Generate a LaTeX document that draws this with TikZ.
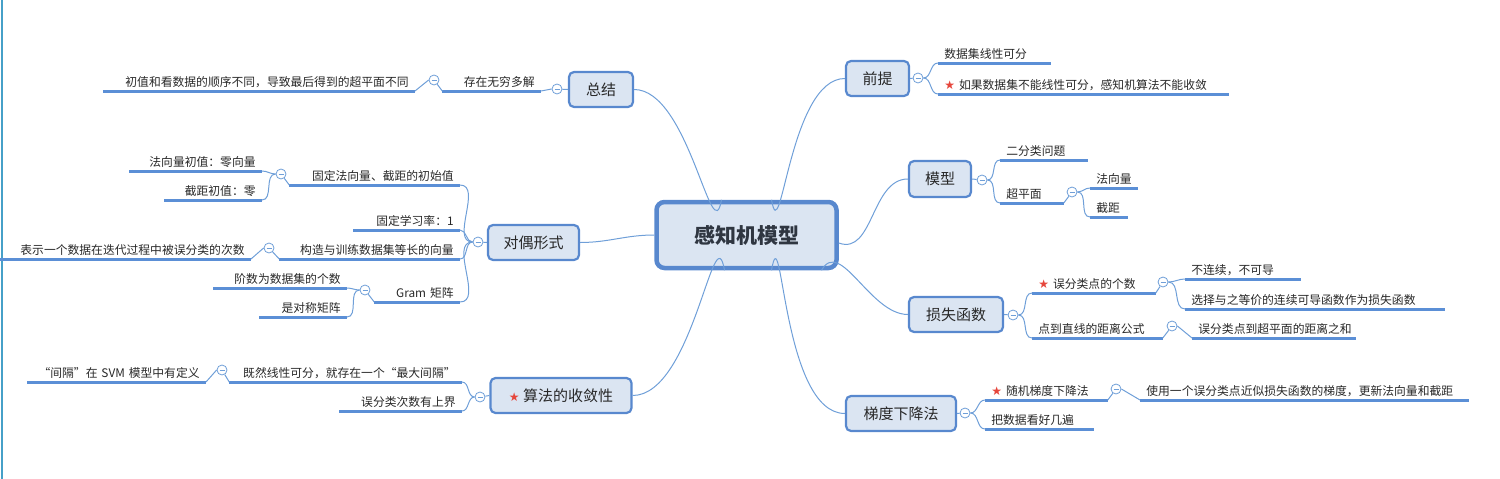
\documentclass[tikz,border=0pt]{standalone}
\usepackage{fontspec}
\setmainfont{Noto Sans CJK SC}
\newfontfamily\symfont{DejaVu Sans}
\definecolor{lineblue}{RGB}{91,143,214}
\definecolor{edgeblue}{RGB}{111,159,216}
\definecolor{boxfill}{RGB}{219,229,242}
\definecolor{boxline}{RGB}{88,136,206}
\definecolor{txt}{RGB}{40,40,40}
\definecolor{starred}{RGB}{230,70,60}
\definecolor{edgeteal}{RGB}{70,160,200}
\tikzset{every picture/.style={line width=0.75pt}}
\tikzset{
  topic/.style={draw=boxline, line width=2.2pt, fill=boxfill, rounded corners=5pt, text=txt, font=\fontsize{15}{17}\selectfont, inner sep=0pt},
  leafR/.style={text width=#1, align=left, inner xsep=6pt, inner ysep=3pt, text=txt, font=\fontsize{11.8}{13}\selectfont, anchor=south west},
  leafL/.style={text width=#1, align=right, inner xsep=6pt, inner ysep=3pt, text=txt, font=\fontsize{11.8}{13}\selectfont, anchor=south east},
  uline/.style={draw=lineblue, line width=3pt},
  link/.style={draw=edgeblue, line width=1pt},
  fold/.style={circle, draw=edgeblue, fill=white, line width=0.8pt, minimum size=10pt, inner sep=0pt,
    path picture={\draw[edgeblue, line width=0.7pt] ([xshift=-2.5pt]path picture bounding box.center) -- ([xshift=2.5pt]path picture bounding box.center);}},
}
\newcommand{\redstar}{{\symfont\color{starred}\large★}\ }
\newcommand{\ul}[1]{\draw[uline] (#1.south west) -- (#1.south east);}

\begin{document}
\begin{tikzpicture}[x=1pt,y=1pt,yscale=-1,xscale=1]
\useasboundingbox (0,0) rectangle (1500,479);
% left edge line
\draw [edgeteal, line width=2pt] (2,0) -- (2,479);

% central topic
\node [draw=boxline, line width=4.5pt, fill=boxfill, rounded corners=8pt, minimum width=180pt, minimum height=66pt, font=\fontsize{21}{24}\selectfont\bfseries, text=txt!85!boxline] (root) at (746.5,235) {感知机模型};

% main topics
\node [topic, minimum width=64pt, minimum height=35pt] (zj) at (601,89.5) {总结};
\node [topic, minimum width=91pt, minimum height=35pt] (dou) at (533.5,242.5) {对偶形式};
\node [topic, minimum width=141pt, minimum height=35pt] (sl) at (561,395.5) {\redstar 算法的收敛性};
\node [topic, minimum width=63pt, minimum height=35pt] (qt) at (877.5,78.5) {前提};
\node [topic, minimum width=62pt, minimum height=36pt] (mx) at (940,179) {模型};
\node [topic, minimum width=94pt, minimum height=35pt] (ss) at (956,314.5) {损失函数};
\node [topic, minimum width=110pt, minimum height=35pt] (td) at (901,413.5) {梯度下降法};

% root to topics
\draw [link] ([xshift=-25pt]root.north) to[out=100, in=0] (zj.east);
\draw [link] (root.west) to[out=180, in=0] (dou.east);
\draw [link] ([xshift=-22pt]root.south) to[out=-100, in=0] (sl.east);
\draw [link] ([xshift=25pt]root.north) to[out=80, in=180] (qt.west);
\draw [link] ([yshift=8pt]root.east) to[out=20, in=180] (mx.west);
\draw [link] ([xshift=75pt]root.south) to[out=-60, in=180] (ss.west);
\draw [link] ([xshift=25pt]root.south) to[out=-80, in=180] (td.west);

% fold circles
\node [fold] (fzj) at (557,89) {};
\node [fold] (fdou) at (478,242) {};
\node [fold] (fsl) at (480,397) {};
\node [fold] (fqt) at (918,78) {};
\node [fold] (fmx) at (982,180) {};
\node [fold] (fss) at (1013,315) {};
\node [fold] (ftd) at (965,413) {};
\draw [link] (zj.west) -- (fzj); \draw [link] (dou.west) -- (fdou); \draw [link] (sl.west) -- (fsl);
\draw [link] (qt.east) -- (fqt); \draw [link] (mx.east) -- (fmx); \draw [link] (ss.east) -- (fss); \draw [link] (td.east) -- (ftd);

% 前提
\node [leafR=100pt] (q1) at (938,63) {数据集线性可分}; \ul{q1}
\node [leafR=278pt] (q2) at (938,94) {\redstar 如果数据集不能线性可分，感知机算法不能收敛}; \ul{q2}
\draw [link] (fqt.east) to[out=0, in=180] (q1.south west);
\draw [link] (fqt.east) to[out=0, in=180] (q2.south west);

% 模型
\node [leafR=75pt] (m1) at (1000,160) {二分类问题}; \ul{m1}
\node [leafR=51pt] (m2) at (1000,203) {超平面}; \ul{m2}
\draw [link] (fmx.east) to[out=0, in=180] (m1.south west);
\draw [link] (fmx.east) to[out=0, in=180] (m2.south west);
\node [fold] (fm2) at (1072,192) {};
\draw [link] (m2.south east) -- (fm2);
\node [leafR=35pt] (m21) at (1090,188) {法向量}; \ul{m21}
\node [leafR=25pt] (m22) at (1090,217) {截距}; \ul{m22}
\draw [link] (fm2.east) to[out=0, in=180] (m21.south west);
\draw [link] (fm2.east) to[out=0, in=180] (m22.south west);

% 损失函数
\node [leafR=111pt] (s1) at (1032,293) {\redstar 误分类点的个数}; \ul{s1}
\node [leafR=118pt] (s2) at (1032,338) {点到直线的距离公式}; \ul{s2}
\draw [link] (fss.east) to[out=0, in=180] (s1.south west);
\draw [link] (fss.east) to[out=0, in=180] (s2.south west);
\node [fold] (fs1) at (1163,282) {};
\node [fold] (fs2) at (1172,326) {};
\draw [link] (s1.south east) -- (fs1); \draw [link] (s2.south east) -- (fs2);
\node [leafR=103pt] (s11) at (1185,279) {不连续，不可导}; \ul{s11}
\node [leafR=247pt] (s12) at (1185,309) {选择与之等价的连续可导函数作为损失函数}; \ul{s12}
\draw [link] (fs1.east) to[out=0, in=180] (s11.south west);
\draw [link] (fs1.east) to[out=0, in=180] (s12.south west);
\node [leafR=151pt] (s21) at (1192,338) {误分类点到超平面的距离之和}; \ul{s21}
\draw [link] (fs2.east) -- (s21.south west);

% 梯度下降法
\node [leafR=110pt] (t1) at (985,400) {\redstar 随机梯度下降法}; \ul{t1}
\node [leafR=96pt] (t2) at (985,429) {把数据看好几遍}; \ul{t2}
\draw [link] (ftd.east) to[out=0, in=180] (t1.south west);
\draw [link] (ftd.east) to[out=0, in=180] (t2.south west);
\node [fold] (ft1) at (1116,389) {};
\draw [link] (t1.south east) -- (ft1);
\node [leafR=316pt] (t11) at (1140,400) {使用一个误分类点近似损失函数的梯度，更新法向量和截距}; \ul{t11}
\draw [link] (ft1.east) -- (t11.south west);

% 总结
\node [leafL=86pt] (z1) at (541,91) {存在无穷多解}; \ul{z1}
\draw [link] (fzj.west) -- (z1.south east);
\node [fold] (fz1) at (434,80) {};
\draw [link] (z1.south west) -- (fz1);
\node [leafL=299pt] (z11) at (415,91) {初值和看数据的顺序不同，导致最后得到的超平面不同}; \ul{z11}
\draw [link] (fz1.west) -- (z11.south east);

% 对偶形式
\node [leafL=158pt] (d1) at (460,185) {固定法向量、截距的初始值}; \ul{d1}
\node [leafL=94pt] (d2) at (460,230) {固定学习率：1}; \ul{d2}
\node [leafL=168pt] (d3) at (460,259) {构造与训练数据集等长的向量}; \ul{d3}
\node [leafL=73pt] (d4) at (460,302) {Gram 矩阵}; \ul{d4}
\foreach \n in {d1,d2,d3,d4}
  \draw [link] (fdou.west) to[out=180, in=0] (\n.south east);
\node [fold] (fd1) at (281,174) {};
\node [fold] (fd3) at (269,248) {};
\node [fold] (fd4) at (365,290) {};
\draw [link] (d1.south west) -- (fd1); \draw [link] (d3.south west) -- (fd3); \draw [link] (d4.south west) -- (fd4);
\node [leafL=120pt] (d11) at (262,171) {法向量初值：零向量}; \ul{d11}
\node [leafL=85pt] (d12) at (262,200) {截距初值：零}; \ul{d12}
\draw [link] (fd1.west) to[out=180, in=0] (d11.south east);
\draw [link] (fd1.west) to[out=180, in=0] (d12.south east);
\node [leafL=239pt] (d31) at (251,259) {表示一个数据在迭代过程中被误分类的次数}; \ul{d31}
\draw [link] (fd3.west) -- (d31.south east);
\node [leafL=121pt] (d41) at (347,288) {阶数为数据集的个数}; \ul{d41}
\node [leafL=75pt] (d42) at (347,317) {是对称矩阵}; \ul{d42}
\draw [link] (fd4.west) to[out=180, in=0] (d41.south east);
\draw [link] (fd4.west) to[out=180, in=0] (d42.south east);

% 算法的收敛性
\node [leafL=220pt] (c1) at (462,382) {既然线性可分，就存在一个“最大间隔”}; \ul{c1}
\node [leafL=110pt] (c2) at (462,411) {误分类次数有上界}; \ul{c2}
\draw [link] (fsl.west) to[out=180, in=0] (c1.south east);
\draw [link] (fsl.west) to[out=180, in=0] (c2.south east);
\node [fold] (fc1) at (222,370) {};
\draw [link] (c1.south west) -- (fc1);
\node [leafL=166pt] (c11) at (206,382) {“间隔”在 SVM 模型中有定义}; \ul{c11}
\draw [link] (fc1.west) -- (c11.south east);

\end{tikzpicture}
\end{document}
